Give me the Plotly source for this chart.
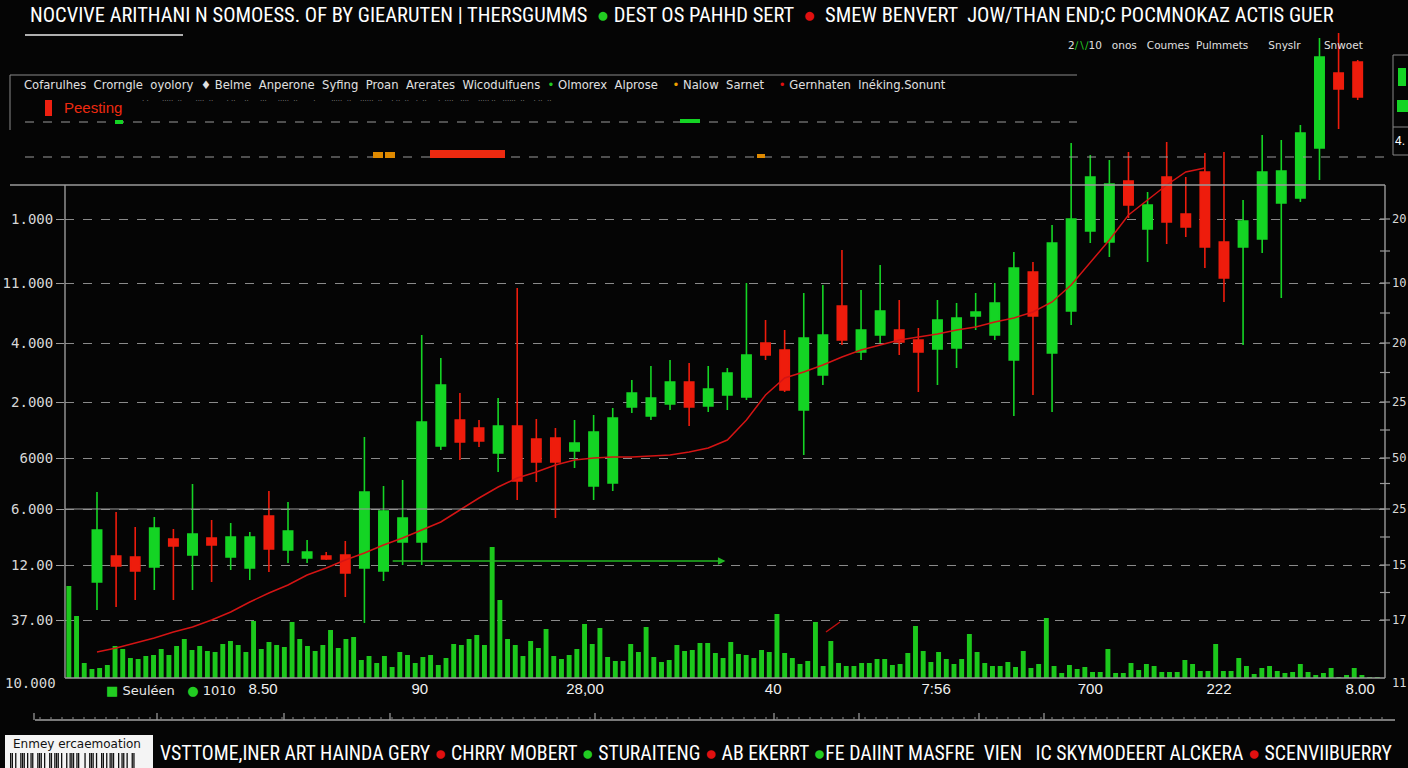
import plotly.graph_objects as go

# ---------------- data ----------------
opens  = [118,144,143,133,161,145,162,143,132,184,150,142,144,145,132,129,158,158,254,280,272,247,274,261,262,249,214,217,293,284,296,318,294,305,303,357,350,290,325,394,348,365,370,360,351,352,384,365,340,428,347,389,469,458,519,471,523,486,528,458,453,461,497,502,552,627,638]
closes = [170,134,129,172,154,166,155,163,163,151,169,148,141,127,208,189,182,278,315,258,259,274,219,238,238,257,268,282,307,302,318,293,311,327,345,345,310,362,365,360,370,389,358,348,380,382,388,397,432,384,457,481,523,516,495,495,478,473,453,422,479,528,529,567,643,611,603]
highs  = [208,188,173,183,171,216,180,177,168,209,198,160,148,159,263,214,220,365,342,307,280,302,412,281,272,280,285,292,320,334,340,337,334,332,417,380,370,407,415,450,410,435,400,372,400,397,407,417,448,438,475,557,545,540,548,508,558,523,547,548,500,565,560,575,662,667,640]
lows   = [90,93,100,110,100,110,118,130,120,128,137,137,140,103,77,119,135,135,250,240,253,228,200,218,182,232,200,209,287,280,290,274,288,290,300,340,308,245,315,355,340,357,345,308,315,332,370,360,284,305,288,375,457,443,482,438,456,463,432,398,355,447,402,498,520,571,600]

moving_avg = [48,52,57,62,68,73,80,88,98,107,115,125,132,140,147,155,162,170,178,190,202,213,222,228,235,240,242,243,243,244,245,248,252,260,280,305,322,328,335,343,350,355,360,363,366,370,373,378,382,388,398,415,438,460,485,500,515,528,532]

volume = [92,62,15,9,10,13,32,29,20,19,22,23,29,23,32,39,28,32,27,26,
          34,37,33,26,57,29,36,33,31,56,39,32,27,33,48,30,39,41,18,22,
          15,22,11,26,23,15,21,23,13,20,34,33,39,43,33,131,78,39,33,22,
          37,30,49,22,19,23,29,54,34,50,21,17,17,34,26,51,21,16,18,33,
          27,28,35,35,25,20,
          36,24,23,20,28,26,64,25,20,14,17,56,12,37,15,12,12,15,15,19,
          19,13,14,25,52,27,16,26,19,14,19,44,26,15,12,12,16,11,27,10,
          14,60,12,5,13,9,11,6,6,29,5,5,15,8,14,12,6,6,6,18,
          14,7,7,34,7,7,20,12,4,10,12,7,5,6,14,6,3,5,10,1,
          3,10,3,1,1]

left_tick_values = [481, 417, 357, 298, 242, 191, 135, 80]
left_tick_labels = ["1.000", "11.000", "4.000", "2.000", "6000", "6.000", "12.00", "37.00"]
right_tick_labels = ["20", "10", "20", "25", "50", "25", "15", "17"]

x_tick_labels = ["8.50", "90", "28,00", "40", "7:56", "700", "222", "8.00"]
x_tick_positions = [8.69, 16.9, 25.55, 35.4, 43.93, 52.0, 58.74, 66.13]

candle_index = list(range(len(opens)))
ma_index = list(range(len(moving_avg)))
vol_index = list(range(len(volume)))

# ---------------- layout helpers (pixel -> paper) ----------------
W, H = 1408, 768
ML, MR, MT, MB = 65, 23, 30, 90
PW, PH = W - ML - MR, H - MT - MB


def px(x):
    return (x - ML) / PW


def py(y):
    return (H - MB - y) / PH


GREEN = "#14d424"
RED = "#ee1c0c"
GRID = "#8a8a8a"

fig = go.Figure()

fig.add_trace(go.Bar(
    x=vol_index, y=volume, xaxis="x", yaxis="y", width=0.64,
    marker=dict(color="#1cc81c", line=dict(width=0)),
    hoverinfo="skip", showlegend=False))

fig.add_trace(go.Candlestick(
    x=candle_index, open=opens, high=highs, low=lows, close=closes,
    xaxis="x2", yaxis="y2", whiskerwidth=0,
    increasing=dict(line=dict(color=GREEN, width=1.6), fillcolor=GREEN),
    decreasing=dict(line=dict(color=RED, width=1.6), fillcolor=RED),
    showlegend=False))

fig.add_trace(go.Scatter(
    x=ma_index, y=moving_avg, xaxis="x2", yaxis="y2", mode="lines",
    line=dict(color="#d41414", width=1.5), hoverinfo="skip", showlegend=False))

shapes = []


def hline(y, x0, x1, color="#999", width=1.2, dash="solid"):
    shapes.append(dict(type="line", xref="paper", yref="paper",
                       x0=px(x0), x1=px(x1), y0=py(y), y1=py(y),
                       line=dict(color=color, width=width, dash=dash)))


def vline(x, y0, y1, color="#999", width=1.2):
    shapes.append(dict(type="line", xref="paper", yref="paper",
                       x0=px(x), x1=px(x), y0=py(y0), y1=py(y1),
                       line=dict(color=color, width=width)))


def rect(x0, y0, x1, y1, fill, line=None):
    shapes.append(dict(type="rect", xref="paper", yref="paper",
                       x0=px(x0), x1=px(x1), y0=py(y1), y1=py(y0),
                       fillcolor=fill, line=dict(width=1 if line else 0, color=line or fill)))


# frame lines
hline(35, 25, 183, "#e8e8e8", 1.5)
hline(75, 10, 1077, "#8a8a8a", 1)
vline(10, 75, 130, "#8a8a8a", 1)
hline(122, 25, 1077, "#9a9a9a", 1.2, "dash")
hline(157, 25, 1390, "#9a9a9a", 1.2, "dash")
hline(185, 10, 1385, "#9a9a9a", 1.4)
vline(65, 185, 678, "#9a9a9a", 1.4)
vline(1385, 185, 678, "#9a9a9a", 1.4)
hline(678, 65, 1385, "#9a9a9a", 1.4)
hline(509, 65, 1385, "#9a9a9a", 1.2)

# small marks on the top dashed lines
rect(115, 120, 123, 124, GREEN)
rect(680, 119, 700, 123, GREEN)
rect(373, 152, 383, 158, "#e08a00")
rect(385, 152, 395, 158, "#e08a00")
rect(430, 150, 505, 158, "#ee2a10")
rect(757, 154, 765, 158, "#e08a00")
rect(45, 100, 52, 116, "#ee2010")

# right axis ticks
for i, v in enumerate(left_tick_values):
    shapes.append(dict(type="line", xref="paper", yref="y2", x0=px(1380), x1=px(1390),
                       y0=v, y1=v, line=dict(color="#9a9a9a", width=1.2)))
    if i + 1 < len(left_tick_values):
        m = (v + left_tick_values[i + 1]) / 2
        shapes.append(dict(type="line", xref="paper", yref="y2", x0=px(1380), x1=px(1390),
                           y0=m, y1=m, line=dict(color="#9a9a9a", width=1.2)))

# right-top box
shapes.append(dict(type="rect", xref="paper", yref="paper", x0=px(1393), x1=px(1415),
                   y0=py(155), y1=py(55), line=dict(color="#888", width=1), fillcolor="rgba(0,0,0,0)"))
hline(127, 1393, 1410, "#888", 1)
rect(1398, 68, 1406, 86, GREEN)
rect(1397, 100, 1408, 112, GREEN)

# small red stroke near the volume
shapes.append(dict(type="line", xref="paper", yref="paper", x0=px(826), x1=px(840),
                   y0=py(632), y1=py(622), line=dict(color="#c01010", width=1.5)))

# ruler
hline(720, 35, 1395, "#a0a0a0", 1.5)
for xx in range(40, 1390, 11):
    vline(xx, 717, 719, "#8a8a8a", 1)
for xx in [34, 157, 284, 390, 595, 774, 859, 979, 1044]:
    vline(xx, 713, 720, "#a0a0a0", 1.2)

# bottom-left label + barcode
rect(5, 735, 153, 770, "#f4f4f4")
bar_pattern = "1101001110101100111010011011101001011101100101110100110101110010110100111"
xb = 10
for ch in bar_pattern:
    if xb > 135:
        break
    if ch == "1":
        rect(xb, 753, xb + 1.3, 768, "#111")
    xb += 1.7 if xb < 80 or xb > 86 else 3

annotations = []


def text(x, y, s, size=14, color="#ffffff", family="Liberation Sans", anchor="left"):
    annotations.append(dict(xref="paper", yref="paper", x=px(x), y=py(y), text=s,
                            showarrow=False, xanchor=anchor, yanchor="middle",
                            font=dict(size=size, color=color, family=family)))


NARROW = "Liberation Sans Narrow, Arial Narrow, Roboto Condensed, sans-serif"
g = "<span style='color:#22cc22'>●</span>"
r = "<span style='color:#e01010'>●</span>"
text(28, 15, "NOCVIVE ARITHANI N SOMOESS. OF BY GIEARUTEN | THERSGUMMS  " + g +
     " DEST OS PAHHD SERT  " + r + "  SMEW BENVERT  JOW/THAN END;C POCMNOKAZ ACTIS GUER",
     size=20.5, family=NARROW)

text(22, 85, "Cofarulhes  Crorngle  oyolory  ♦ Belme  Anperone  Syfing  Proan  Arerates  Wicodulfuens  "
     "<span style='color:#22cc22'>•</span> Olmorex  Alprose    <span style='color:#f0a000'>•</span> Nalow  Sarnet    "
     "<span style='color:#e01010'>•</span> Gernhaten  lnéking.Sonunt", size=11.6, color="#e0e0e0",
     family="DejaVu Sans")
text(140, 101, "· ·      ·····  ··      ····  ··      · ··    ··     ···     ·····  ··       ·       ·····  ··"
     "    ······  ··    · ··  ··   ·  ··     ·  ····   ····    ····· ··   ······  ··    · ··  ··",
     size=7, color="#888", family="DejaVu Sans")
text(62, 108, "Peesting", size=15, color="#ee2a10")
text(1066, 45, "2<span style='color:#22cc22'>∕∖∕</span>10   onos   Coumes  Pulmmets      Snyslr       Snwoet",
     size=10.5, color="#e0e0e0", family="DejaVu Sans")
text(1393, 141, "4.", size=12)

# left/right extra labels
text(3, 683, "10.000", size=14, color="#d8d8d8", family="DejaVu Sans Mono")
for v, lab in zip(left_tick_values, right_tick_labels):
    annotations.append(dict(xref="paper", yref="y2", x=px(1390), y=v, text=lab, showarrow=False,
                            xanchor="left", yanchor="middle",
                            font=dict(size=12, color="#d8d8d8", family="DejaVu Sans Mono")))
text(1390, 683, "11", size=12, color="#d8d8d8", family="DejaVu Sans Mono")

# bottom legend
text(104, 690, "<span style='color:#22cc22'>■</span> Seuléen   <span style='color:#22cc22'>●</span> 1010",
     size=13, color="#e8e8e8", family="DejaVu Sans")

# bottom-left label text
text(11, 744, "Enmey ercaemoation", size=12, color="#111", family="DejaVu Sans")

# bottom headline
text(158, 753, "VSTTOME,INER ART HAINDA GERY " + r + " CHRRY MOBERT " + g + " STURAITENG " + r +
     " AB EKERRT " + g + "FE DAIINT MASFRE  VIEN   IC SKYMODEERT ALCKERA " + r + " SCENVIIBUERRY",
     size=19.8, family=NARROW)

# support arrow
annotations.append(dict(xref="x2", yref="y2", axref="x2", ayref="y2",
                        x=32.9, y=139, ax=15.4, ay=139, showarrow=True,
                        arrowhead=2, arrowsize=1, arrowwidth=1.5, arrowcolor="#22b822", text=""))

fig.update_layout(
    width=W, height=H, autosize=False,
    margin=dict(l=ML, r=MR, t=MT, b=MB, autoexpand=False),
    paper_bgcolor="#050505", plot_bgcolor="#050505",
    showlegend=False, bargap=0.3,
    xaxis=dict(domain=[0, 1], range=[-0.5, 171], visible=False, fixedrange=True,
               rangeslider=dict(visible=False)),
    yaxis=dict(domain=[0, 1], range=[0, PH], visible=False, fixedrange=True),
    xaxis2=dict(overlaying="x", anchor="y2", range=[-1.675, 67.43], automargin=False,
                tickvals=x_tick_positions, ticktext=x_tick_labels, ticks="",
                showgrid=False, zeroline=False, showline=False,
                tickfont=dict(size=15, color="#f0f0f0", family="Liberation Sans"),
                rangeslider=dict(visible=False)),
    yaxis2=dict(overlaying="y", anchor="x2", side="left", range=[22, 670], automargin=False,
                tickvals=left_tick_values, ticktext=left_tick_labels,
                ticks="outside", ticklen=8, tickcolor="#9a9a9a", tickwidth=1.2,
                showgrid=True, gridcolor=GRID, griddash="dash", gridwidth=1.2,
                zeroline=False, showline=False,
                tickfont=dict(size=14, color="#d8d8d8", family="DejaVu Sans Mono")),
    shapes=shapes,
    annotations=annotations,
)

fig.write_html(
    "out.html",
    config={"displayModeBar": False},
    post_script="document.body.style.margin='0';document.body.style.background='#050505';"
                "document.documentElement.style.background='#050505';"
                "document.body.style.overflow='hidden';",
)
